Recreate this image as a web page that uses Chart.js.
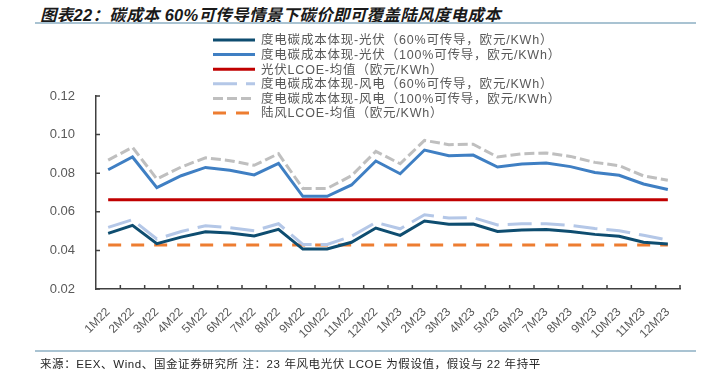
<!DOCTYPE html>
<html>
<head>
<meta charset="utf-8">
<script src="https://cdn.jsdelivr.net/npm/chart.js@4.4.1/dist/chart.umd.min.js"></script>
<style>
  body { margin: 0; background: #fff; }
  #wrap { position: relative; width: 710px; height: 372px; overflow: hidden; font-family: "Liberation Sans", "Noto Sans CJK SC", sans-serif; }
  #title { position: absolute; left: 40px; top: 2px; font-size: 16.5px; font-weight: bold; font-style: italic; color: #1a1a1a; white-space: nowrap; letter-spacing: 0.3px; }
  .rule { position: absolute; left: 35px; width: 661px; height: 2px; background: #a9c3d2; }
  #source { position: absolute; left: 40px; top: 355px; font-size: 11.5px; color: #262626; white-space: nowrap; letter-spacing: 0.6px; }
  canvas { position: absolute; left: 0; top: 0; }
</style>
</head>
<body>
<div id="wrap">
  <div id="title">图表22：碳成本 60%可传导情景下碳价即可覆盖陆风度电成本</div>
  <div class="rule" style="top:22px"></div>
  <canvas id="chart" width="710" height="372"></canvas>
  <div class="rule" style="top:350px"></div>
  <div id="source">来源：EEX、Wind、国金证券研究所 注：23 年风电光伏 LCOE 为假设值，假设与 22 年持平</div>
</div>
<script>
/* data */
const months = ['1M22','2M22','3M22','4M22','5M22','6M22','7M22','8M22','9M22','10M22','11M22','12M22',
  '1M23','2M23','3M23','4M23','5M23','6M23','7M23','8M23','9M23','10M23','11M23','12M23']

const pv60 = [0.0488,0.0530,0.0435,0.0469,0.0497,0.0490,0.0475,0.0509,0.0407,0.0407,0.0442,0.0516,
  0.0478,0.0552,0.0535,0.0537,0.0498,0.0506,0.0508,0.0498,0.0483,0.0473,0.0442,0.0433]
const pv100 = [0.0818,0.0884,0.0725,0.0787,0.0830,0.0815,0.0791,0.0851,0.0680,0.0680,0.0739,0.0863,
  0.0797,0.0920,0.0891,0.0894,0.0832,0.0848,0.0853,0.0834,0.0804,0.0789,0.0744,0.0716]
const pvLcoe = [0.0663,0.0663,0.0663,0.0663,0.0663,0.0663,0.0663,0.0663,0.0663,0.0663,0.0663,0.0663,
  0.0663,0.0663,0.0663,0.0663,0.0663,0.0663,0.0663,0.0663,0.0663,0.0663,0.0663,0.0663]
const wind60 = [0.0519,0.0559,0.0459,0.0498,0.0528,0.0518,0.0502,0.0538,0.0431,0.0431,0.0473,0.0545,
  0.0512,0.0585,0.0568,0.0570,0.0532,0.0538,0.0538,0.0530,0.0514,0.0502,0.0478,0.0454]
const wind100 = [0.0868,0.0934,0.0770,0.0832,0.0880,0.0865,0.0841,0.0901,0.0721,0.0721,0.0787,0.0913,
  0.0849,0.0970,0.0948,0.0950,0.0884,0.0901,0.0905,0.0887,0.0856,0.0839,0.0786,0.0763]
const windLcoe = [0.0428,0.0428,0.0428,0.0428,0.0428,0.0428,0.0428,0.0428,0.0428,0.0428,0.0428,0.0428,
  0.0428,0.0428,0.0428,0.0428,0.0428,0.0428,0.0428,0.0428,0.0428,0.0428,0.0428,0.0428]

const yTicks = [0.02, 0.04, 0.06, 0.08, 0.10, 0.12]

const labelFont = '"Liberation Sans", "Noto Sans CJK SC", sans-serif'
const textGray = '#595959'
const axisGray = '#404040'

const mk = (label, data, color, dash) => ({
  label, data,
  borderColor: color,
  backgroundColor: color,
  borderWidth: 3,
  borderDash: dash,
  pointRadius: 0,
  tension: 0,
  fill: false
})

// legend drawn on the canvas, overlapping the plot like in the source
const legendBox = {
  id: 'legendBox',
  afterDraw(chart) {
    const ctx = chart.ctx
    const x0 = 213, x1 = 255, tx = 261, y0 = 40, step = 14.6
    ctx.save()
    chart.data.datasets.forEach((ds, i) => {
      const y = y0 + i * step
      ctx.beginPath()
      ctx.setLineDash(ds.borderDash || [])
      ctx.strokeStyle = ds.borderColor
      ctx.lineWidth = 3
      ctx.moveTo(x0, y)
      ctx.lineTo(x1, y)
      ctx.stroke()
      ctx.setLineDash([])
      ctx.fillStyle = textGray
      ctx.font = '12.5px ' + labelFont
      ctx.letterSpacing = '0.8px'
      ctx.textBaseline = 'middle'
      ctx.fillText(ds.label, tx, y + 1)
    })
    ctx.restore()
  }
}

// short inward tick marks on both axes
const innerTicks = {
  id: 'innerTicks',
  afterDraw(chart) {
    const { ctx, scales: { x, y } } = chart
    ctx.save()
    ctx.strokeStyle = axisGray
    ctx.lineWidth = 1.5
    ctx.beginPath()
    yTicks.forEach(v => {
      const py = y.getPixelForValue(v)
      ctx.moveTo(x.left, py)
      ctx.lineTo(x.left + 4, py)
    })
    const n = months.length
    for (let i = 1; i <= n; i++) {
      const px = x.left + i * (x.right - x.left) / n
      ctx.moveTo(px, y.bottom)
      ctx.lineTo(px, y.bottom - 4)
    }
    ctx.stroke()
    ctx.restore()
  }
}

new Chart(document.getElementById('chart'), {
  type: 'line',
  data: {
    labels: months,
    datasets: [
      mk('度电碳成本体现-光伏（60%可传导，欧元/KWh）', pv60, '#0e4d70', []),
      mk('度电碳成本体现-光伏（100%可传导，欧元/KWh）', pv100, '#3f7fc3', []),
      mk('光伏LCOE-均值（欧元/KWh）', pvLcoe, '#c00000', []),
      mk('度电碳成本体现-风电（60%可传导，欧元/KWh）', wind60, '#b4c7e7', [24, 9]),
      mk('度电碳成本体现-风电（100%可传导，欧元/KWh）', wind100, '#bfbfbf', [10, 4]),
      mk('陆风LCOE-均值（欧元/KWh）', windLcoe, '#ed7d31', [13, 10])
    ]
  },
  options: {
    responsive: false,
    animation: false,
    layout: { padding: { left: 0, top: 96, right: 30, bottom: 33 } },
    plugins: { legend: { display: false }, tooltip: { enabled: false } },
    scales: {
      x: {
        offset: true,
        grid: { display: false },
        border: { display: true, color: axisGray, width: 1.5 },
        ticks: {
          autoSkip: false, minRotation: 45, maxRotation: 45, padding: 8,
          color: textGray, font: { family: labelFont, size: 12 }
        },
        afterFit(s) { s.height = 50 }
      },
      y: {
        min: 0.02, max: 0.12,
        afterBuildTicks(s) { s.ticks = yTicks.map(v => ({ value: v })) },
        grid: { display: false },
        border: { display: true, color: axisGray, width: 1.5 },
        ticks: {
          padding: 13, color: textGray, font: { family: labelFont, size: 13 },
          callback: v => v.toFixed(2)
        },
        afterFit(s) { s.width = 96 }
      }
    }
  },
  plugins: [legendBox, innerTicks]
})
</script>
</body>
</html>
